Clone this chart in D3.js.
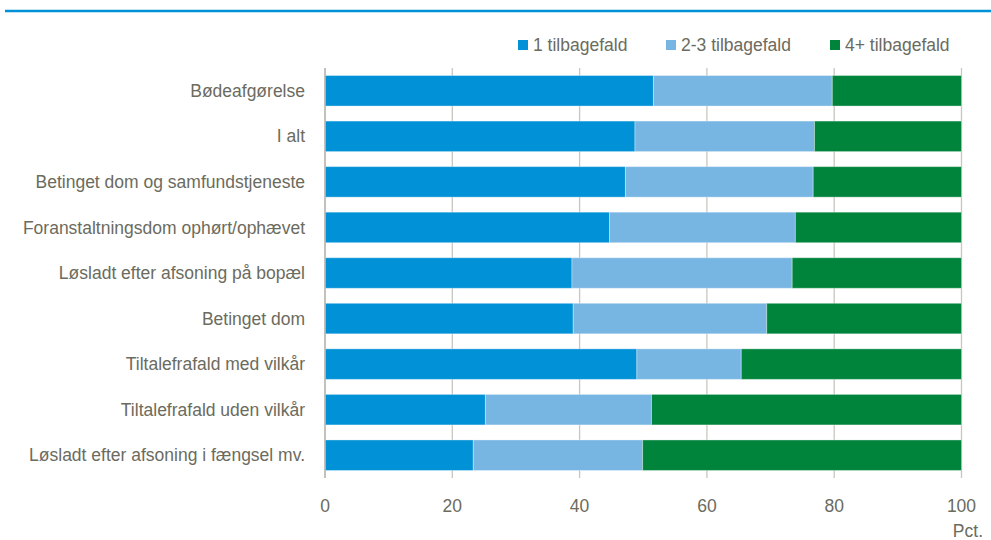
<!DOCTYPE html>
<html>
<head>
<meta charset="utf-8">
<script src="https://cdn.jsdelivr.net/npm/d3@7"></script>
<style>
  body { margin: 0; background: #fff; }
  svg { display: block; }
  text { font-family: "Liberation Sans", Arial, sans-serif; fill: #6b6b5e; }
</style>
</head>
<body>
<svg id="chart" width="991" height="540"></svg>
<script>
// categories, top to bottom
const categories = [
  "Bødeafgørelse",
  "I alt",
  "Betinget dom og samfundstjeneste",
  "Foranstaltningsdom ophørt/ophævet",
  "Løsladt efter afsoning på bopæl",
  "Betinget dom",
  "Tiltalefrafald med vilkår",
  "Tiltalefrafald uden vilkår",
  "Løsladt efter afsoning i fængsel mv."
];
const seriesNames = ["1 tilbagefald", "2-3 tilbagefald", "4+ tilbagefald"];
const one = [51.6, 48.7, 47.2, 44.7, 38.8, 39.0, 49.0, 25.2, 23.3];
const twoThree = [28.1, 28.2, 29.5, 29.2, 34.6, 30.4, 16.4, 26.1, 26.6];
const fourPlus = [20.3, 23.1, 23.3, 26.1, 26.6, 30.6, 34.6, 48.7, 50.1];
const xTicks = [0, 20, 40, 60, 80, 100];
const colors = ["#0091d6", "#77b5e3", "#00843c"];

const svg = d3.select("#chart");
const fs = 17.5;

// top rule (title above is cut off)
svg.append("line")
  .attr("x1", 5).attr("x2", 991)
  .attr("y1", 11).attr("y2", 11)
  .attr("stroke", "#0091d6").attr("stroke-width", 2.5);

const x = d3.scaleLinear().domain([0, 100]).range([325, 961.5]);
const y = d3.scaleBand().domain(categories).range([68, 478]).paddingInner(0.33).paddingOuter(0.165);

const rows = categories.map((c, i) => ({ cat: c, v: [one[i], twoThree[i], fourPlus[i]] }));
const stack = d3.stack().keys([0, 1, 2]).value((d, k) => d.v[k]);
const layers = stack(rows);

// gridlines
svg.append("g")
  .selectAll("line")
  .data(xTicks)
  .join("line")
  .attr("x1", d => x(d)).attr("x2", d => x(d))
  .attr("y1", 68).attr("y2", 478)
  .attr("stroke", "#c9c6bf").attr("stroke-width", 1.3);

// bars
svg.append("g")
  .selectAll("g")
  .data(layers)
  .join("g")
  .attr("fill", (d, i) => colors[i])
  .selectAll("rect")
  .data(d => d)
  .join("rect")
  .attr("x", d => x(d[0]))
  .attr("width", d => x(d[1]) - x(d[0]))
  .attr("y", d => y(d.data.cat))
  .attr("height", y.bandwidth())
  .attr("stroke", "#ffffff").attr("stroke-opacity", 0.35).attr("stroke-width", 1);

// left axis line
svg.append("line")
  .attr("x1", x(0)).attr("x2", x(0))
  .attr("y1", 68).attr("y2", 478)
  .attr("stroke", "#bdb9b1").attr("stroke-width", 1.5);

// category labels
svg.append("g")
  .selectAll("text")
  .data(categories)
  .join("text")
  .attr("x", 305)
  .attr("y", d => y(d) + y.bandwidth() / 2)
  .attr("dy", "0.35em")
  .attr("text-anchor", "end")
  .attr("font-size", fs)
  .text(d => d);

// x tick labels
svg.append("g")
  .selectAll("text")
  .data(xTicks)
  .join("text")
  .attr("x", d => x(d))
  .attr("y", 506)
  .attr("dy", "0.35em")
  .attr("text-anchor", "middle")
  .attr("font-size", fs)
  .text(d => d);

svg.append("text")
  .attr("x", 983).attr("y", 531).attr("dy", "0.35em")
  .attr("text-anchor", "end").attr("font-size", fs)
  .text("Pct.");

// legend
const legendX = [518, 666, 830];
const legend = svg.append("g")
  .selectAll("g")
  .data(seriesNames)
  .join("g")
  .attr("transform", (d, i) => `translate(${legendX[i]},45)`);
legend.append("rect")
  .attr("x", 0).attr("y", -5).attr("width", 10).attr("height", 10)
  .attr("fill", (d, i) => colors[i]);
legend.append("text")
  .attr("x", 15).attr("dy", "0.35em")
  .attr("font-size", fs)
  .text(d => d);
</script>
</body>
</html>
